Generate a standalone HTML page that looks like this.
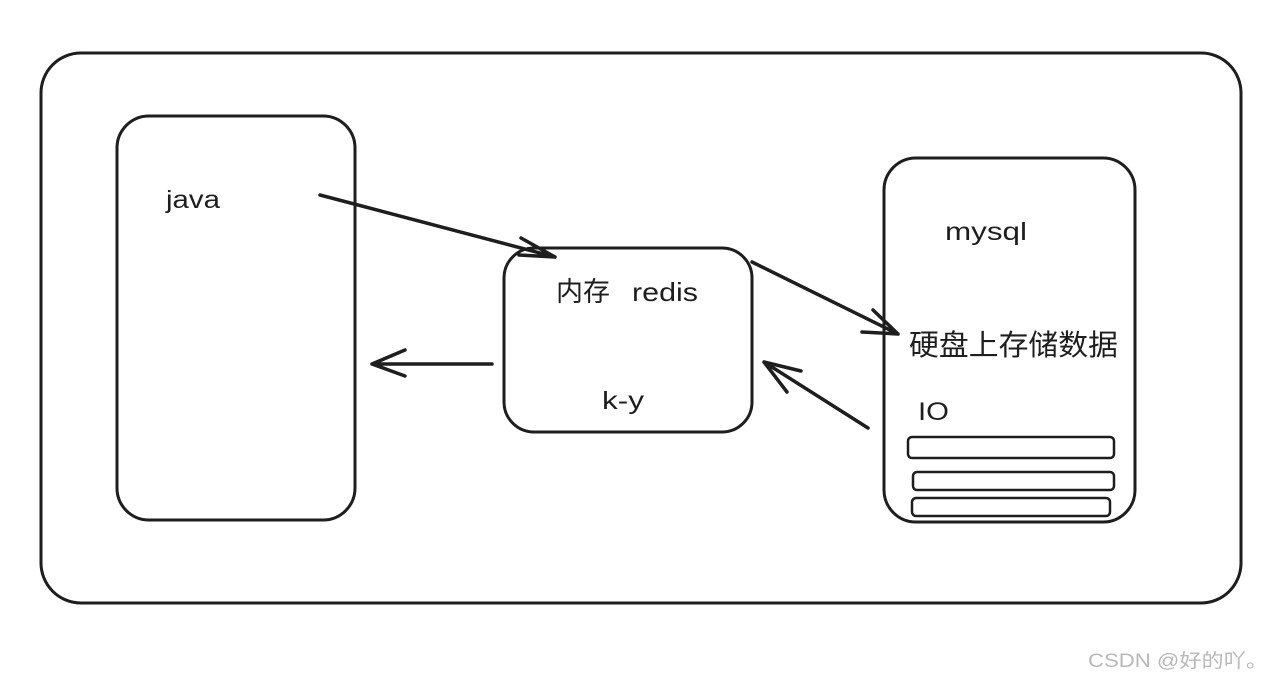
<!DOCTYPE html>
<html><head><meta charset="utf-8"><style>
html,body{margin:0;padding:0;background:#fff;}
svg{display:block}
text{font-family:"Liberation Sans","Noto Sans CJK SC",sans-serif;fill:#1e1e1e}
</style></head><body>
<svg width="1281" height="681" viewBox="0 0 1281 681">
<g fill="none" stroke="#1e1e1e" stroke-width="3" stroke-linecap="round">
<rect x="41" y="53" width="1200" height="550" rx="40"/>
<rect x="117" y="116" width="238" height="404" rx="32"/>
<rect x="504" y="248" width="248" height="184" rx="30"/>
<rect x="884" y="158" width="251" height="364" rx="32"/>
<rect x="908" y="437" width="206" height="21" rx="4" stroke-width="2.5"/>
<rect x="913" y="472" width="201" height="18" rx="4" stroke-width="2.5"/>
<rect x="912" y="498" width="198" height="18" rx="4" stroke-width="2.5"/>
<g stroke-width="3.5">
<path d="M320 195 L555 257 M521 238 L555 257 M519 255 L555 257"/>
<path d="M492 364 L372 364 M405 350 L372 364 M405 376 L372 364"/>
<path d="M752 262 L898 334 M873 310 L898 334 M862 332 L898 334"/>
<path d="M868 428 L764 362 M801 371 L764 362 M787 392 L764 362"/>
</g>
</g>
<text x="166" y="208" font-size="25" textLength="54" lengthAdjust="spacingAndGlyphs">java</text>
<text x="556" y="301" font-size="27">内存</text>
<text x="632" y="301" font-size="26" textLength="66" lengthAdjust="spacingAndGlyphs">redis</text>
<text x="602" y="409" font-size="25" textLength="42" lengthAdjust="spacingAndGlyphs">k-y</text>
<text x="945" y="240" font-size="25" textLength="82" lengthAdjust="spacingAndGlyphs">mysql</text>
<text x="909" y="355" font-size="29" textLength="209" lengthAdjust="spacingAndGlyphs">硬盘上存储数据</text>
<text x="918" y="420" font-size="25" textLength="31" lengthAdjust="spacingAndGlyphs">IO</text>
<text x="1088" y="667" font-size="19" textLength="180" lengthAdjust="spacingAndGlyphs" style="fill:#b8b8b8">CSDN @好的吖。</text>
</svg>
</body></html>
